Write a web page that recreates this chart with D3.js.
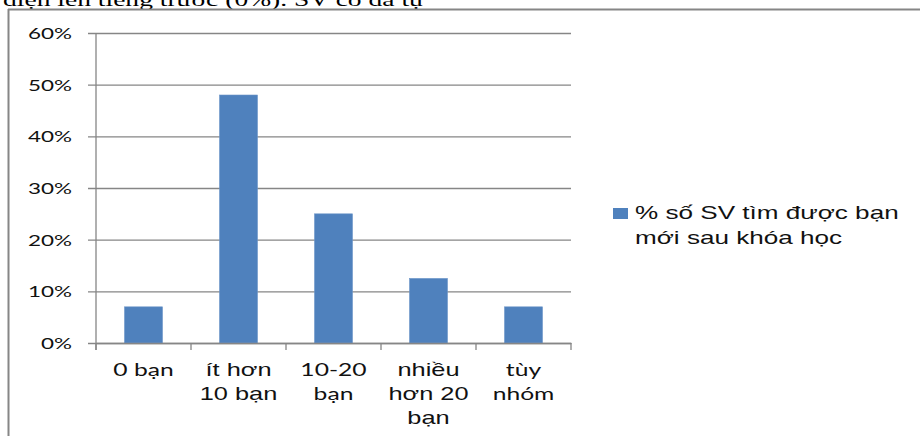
<!DOCTYPE html>
<html>
<head>
<meta charset="utf-8">
<script src="https://cdn.jsdelivr.net/npm/d3@7"></script>
<style>
  html, body { margin: 0; padding: 0; background: #fff; }
  svg { display: block; }
</style>
</head>
<body>
<svg id="chart" width="920" height="436"></svg>
<script>
// Share of students who found new friends after the course
const categories = ["0 bạn", "ít hơn 10 bạn", "10-20 bạn", "nhiều hơn 20 bạn", "tùy nhóm"];
const categoryLines = [["0 bạn"], ["ít hơn", "10 bạn"], ["10-20", "bạn"], ["nhiều", "hơn 20", "bạn"], ["tùy", "nhóm"]];
const values = [0.07, 0.48, 0.25, 0.125, 0.07];
const yTicks = [0, 0.1, 0.2, 0.3, 0.4, 0.5, 0.6];
const seriesName = ["% số SV tìm được bạn", "mới sau khóa học"];
const introText = "diện lên tiếng trước (0%). SV có đã tự";

const svg = d3.select("#chart");
const SX = 1.45;          // horizontal stretch applied to all lettering
const barColor = "#4F81BD";
const gridColor = "#868686";

const margin = { left: 96, right: 349, top: 33, bottom: 93 };
const W = 920, H = 436;

const x = d3.scaleBand().domain(categories).range([margin.left, W - margin.right]).paddingInner(0.6).paddingOuter(0.3);
const xOuter = d3.scaleBand().domain(categories).range([margin.left, W - margin.right]);
const y = d3.scaleLinear().domain([0, 0.6]).range([H - margin.bottom, margin.top]);

// stretched text helper
function stext(g, tx, ty, str, opts) {
  return g.append("text")
    .attr("transform", `translate(${tx},${ty}) scale(${SX},1)`)
    .attr("text-anchor", opts.anchor || "start")
    .attr("font-family", opts.font)
    .attr("font-size", opts.size)
    .attr("fill", opts.fill || "#000")
    .text(str);
}

// running paragraph text above the frame
stext(svg, 3, 6, introText, { font: "'Liberation Serif', 'Times New Roman', serif", size: 19 });

// chart frame
svg.append("line").attr("x1", 8.5).attr("x2", 8.5).attr("y1", 9).attr("y2", H)
  .attr("stroke", gridColor).attr("stroke-width", 2);
svg.append("line").attr("x1", 8).attr("x2", W).attr("y1", 9.5).attr("y2", 9.5)
  .attr("stroke", gridColor).attr("stroke-width", 2);

// gridlines and y axis
const yAxis = d3.axisLeft(y).tickValues(yTicks)
  .tickSize(-(W - margin.right - margin.left))
  .tickFormat(d3.format(".0%"));
const gy = svg.append("g").attr("transform", `translate(${margin.left},0)`).call(yAxis);
gy.select(".domain").remove();
gy.selectAll(".tick line").attr("stroke", gridColor).attr("stroke-width", 1.3).attr("x1", -8);
gy.selectAll(".tick text").remove();
gy.selectAll(".tick").each(function(d) {
  stext(d3.select(this), -24, 5.5, d3.format(".0%")(d), { anchor: "end", font: "Lato, 'Open Sans', sans-serif", size: 15.5, fill: "#111" });
});

// vertical value axis line
svg.append("line").attr("x1", margin.left).attr("x2", margin.left)
  .attr("y1", y(0.6)).attr("y2", y(0) + 7)
  .attr("stroke", gridColor).attr("stroke-width", 1.3);

// bars
svg.append("g").selectAll("rect").data(values).join("rect")
  .attr("x", (d, i) => x(categories[i]))
  .attr("width", x.bandwidth())
  .attr("y", d => y(d))
  .attr("height", d => y(0) - y(d))
  .attr("fill", barColor)
  .attr("stroke", "#6d95c8").attr("stroke-width", 0.6);

// category axis
const xAxis = d3.axisBottom(xOuter).tickSize(0).tickFormat("");
const gx = svg.append("g").attr("transform", `translate(0,${y(0)})`).call(xAxis);
gx.select(".domain").attr("stroke", gridColor).attr("stroke-width", 1.3);
const boundaries = categories.map(c => xOuter(c)).concat([W - margin.right]);
gx.selectAll(".sep").data(boundaries).join("line").attr("class", "sep")
  .attr("x1", d => d).attr("x2", d => d).attr("y1", 0).attr("y2", 7)
  .attr("stroke", gridColor).attr("stroke-width", 1.3);

const arialCats = new Set(["ít hơn 10 bạn", "nhiều hơn 20 bạn"]);
categoryLines.forEach((lines, i) => {
  const cx = xOuter(categories[i]) + xOuter.bandwidth() / 2;
  const isArial = arialCats.has(categories[i]);
  lines.forEach((ln, j) => {
    stext(svg, cx, y(0) + 33 + j * 24, ln, {
      anchor: "middle",
      font: isArial ? "'Liberation Sans', Arial, sans-serif" : "Lato, 'Open Sans', sans-serif",
      size: isArial ? 17.5 : 17,
      fill: "#111"
    });
  });
});

// legend
const lg = svg.append("g");
lg.append("rect").attr("x", 613).attr("y", 208).attr("width", 15).attr("height", 11).attr("fill", barColor);
seriesName.forEach((ln, j) => {
  stext(lg, 635, 219 + j * 24.5, ln, { font: "'Liberation Sans', Arial, sans-serif", size: 18, fill: "#111" });
});
</script>
</body>
</html>
